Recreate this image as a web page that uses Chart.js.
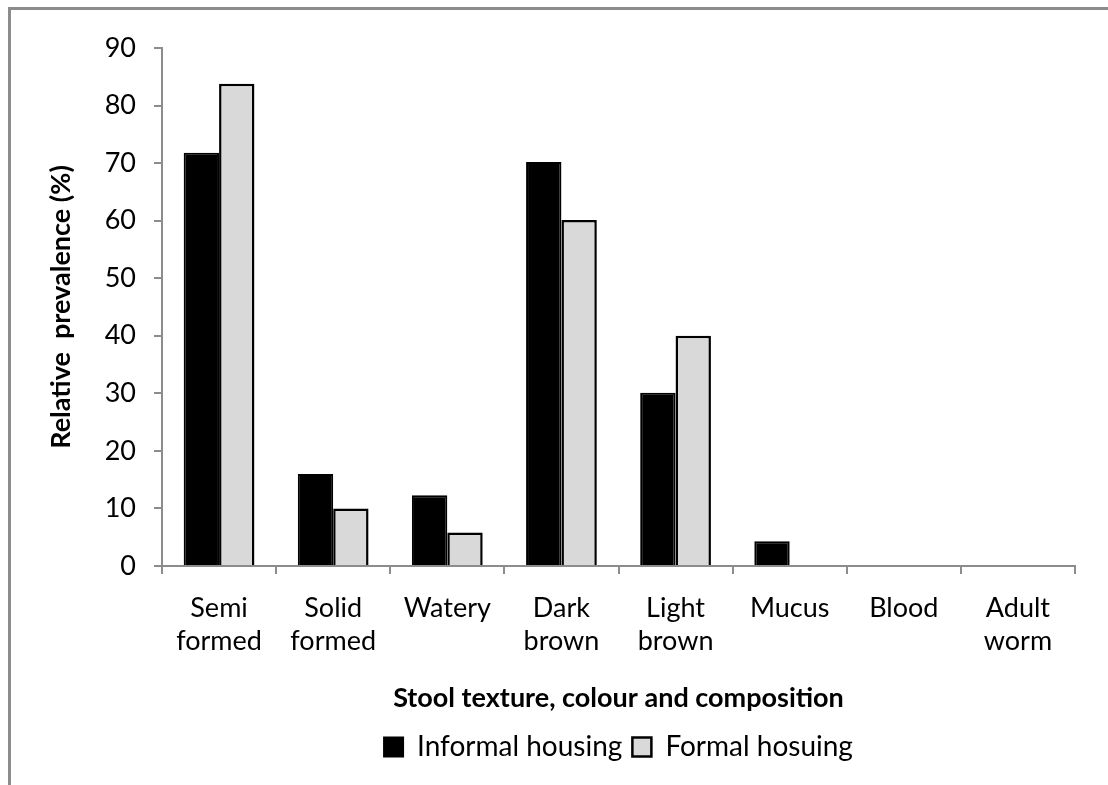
<!DOCTYPE html>
<html>
<head>
<meta charset="utf-8">
<script src="https://cdn.jsdelivr.net/npm/chart.js@4"></script>
<style>
  html,body{margin:0;padding:0;background:#fff;overflow:hidden;}
  #wrap{position:relative;width:1108px;height:785px;}
  #frame{position:absolute;left:8px;top:7px;width:1200px;height:900px;border:3px solid #8c8c8c;box-sizing:border-box;pointer-events:none;}
  canvas{position:absolute;left:0;top:0;}
</style>
</head>
<body>
<div id="wrap">
  <canvas id="c" width="1108" height="785"></canvas>
  <div id="frame"></div>
</div>
<script>
const categories=[['Semi','formed'],['Solid','formed'],['Watery'],['Dark','brown'],['Light','brown'],['Mucus'],['Blood'],['Adult','worm']];
const informal=[71.8,16,12.3,70.2,30.1,4.3,0,0];
const formal=[83.8,10,5.8,60.1,40,0,0,0];
const yTicks=[0,10,20,30,40,50,60,70,80,90];

const FONT='Lato, "Open Sans", sans-serif';
const AXIS='#8c8c8c';

// center the legend under the plot area, not the whole canvas
const legendUnderPlot={id:'legendUnderPlot',afterLayout(chart){
  const lg=chart.legend; if(!lg) return;
  lg.left=chart.chartArea.left; lg.right=chart.chartArea.right;
}};

new Chart(document.getElementById('c').getContext('2d'),{
  type:'bar',
  data:{labels:categories,datasets:[
    {label:'Informal housing',data:informal,backgroundColor:'#000',borderColor:'#000',borderWidth:2,categoryPercentage:0.62,barPercentage:1},
    {label:'Formal hosuing',data:formal,backgroundColor:'#d9d9d9',borderColor:'#000',borderWidth:2.5,categoryPercentage:0.62,barPercentage:1}
  ]},
  plugins:[legendUnderPlot],
  options:{
    responsive:false,animation:false,
    layout:{padding:{top:48,right:33,left:0,bottom:14}},
    plugins:{
      tooltip:{enabled:false},
      legend:{position:'bottom',labels:{color:'#000',font:{family:FONT,size:28},boxWidth:19,boxHeight:19,padding:10}}
    },
    scales:{
      x:{
        grid:{display:true,drawOnChartArea:false,color:AXIS,lineWidth:2,tickLength:8,offset:true},
        border:{color:AXIS,width:2},
        ticks:{color:'#000',font:{family:FONT,size:27,lineHeight:1.25},padding:17,maxRotation:0,autoSkip:false},
        title:{display:true,text:'Stool texture, colour and composition',color:'#000',font:{family:FONT,size:27,weight:'bold'},padding:{top:0,bottom:9}},
        afterFit:s=>{s.height=157;}
      },
      y:{
        min:0,max:90,
        afterBuildTicks:s=>{s.ticks=yTicks.map(v=>({value:v}));},
        grid:{display:true,drawOnChartArea:false,color:AXIS,lineWidth:2,tickLength:8},
        border:{color:AXIS,width:2},
        ticks:{color:'#000',font:{family:FONT,size:27},padding:18},
        title:{display:true,text:'Relative  prevalence (%)',color:'#000',font:{family:FONT,size:27,weight:'bold'},padding:{top:45,bottom:0}},
        afterFit:s=>{s.width=162;}
      }
    }
  }
});
</script>
</body>
</html>
